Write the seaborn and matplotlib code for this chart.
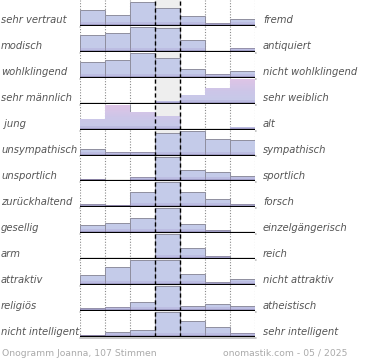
import numpy as np
import matplotlib
matplotlib.use("Agg")
import matplotlib.pyplot as plt
import matplotlib.transforms as mtransforms
from matplotlib.colors import LinearSegmentedColormap
import seaborn as sns

left_labels = ["sehr vertraut", "modisch", "wohlklingend", "sehr männlich", " jung",
               "unsympathisch", "unsportlich", "zurückhaltend", "gesellig", "arm",
               "attraktiv", "religiös", "nicht intelligent"]
right_labels = ["fremd", "antiquiert", "nicht wohlklingend", "sehr weiblich", "alt",
                "sympathisch", "sportlich", "forsch", "einzelgängerisch", "reich",
                "nicht attraktiv", "atheistisch", "sehr intelligent"]
scale_steps = ["1", "2", "3", "4", "5", "6", "7"]

v_vertraut = [16, 11, 24, 17.5, 9.5, 2.5, 6.5]
v_modisch = [17, 19, 25, 24, 12, 0, 4]
v_wohlklingend = [15.7, 17.7, 25, 20.3, 8.7, 3.3, 6.3]
v_maennlich = [0, 0, 0, 2.7, 8.7, 16, 25]
v_jung = [10.7, 25, 17.7, 14, 1, 0, 2.3]
v_unsympathisch = [6.7, 4, 4, 23, 25, 16.5, 15.5]
v_unsportlich = [2.3, 0, 4, 25, 11, 9, 5]
v_zurueckhaltend = [3.3, 2, 15.3, 25, 15.3, 8.3, 3.3]
v_gesellig = [8.3, 10, 15.7, 25, 9, 3, 1.7]
v_arm = [0.4, 0.4, 0.4, 25, 11.7, 3.7, 1.7]
v_attraktiv = [10, 18.7, 25, 25, 10.7, 3.3, 5.7]
v_religioes = [2.7, 4.3, 9.3, 25, 5, 6.7, 5.3]
v_intelligent = [2, 5, 7.3, 25, 16, 10, 4]

rows = [v_vertraut, v_modisch, v_wohlklingend, v_maennlich, v_jung, v_unsympathisch,
        v_unsportlich, v_zurueckhaltend, v_gesellig, v_arm, v_attraktiv, v_religioes,
        v_intelligent]
gradient_rows = [3, 4]

sns.set_style("white")
plt.rcParams['font.family'] = ['DejaVu Sans']

W, H = 370, 360
fig, axes = plt.subplots(len(rows), 1, figsize=(W / 100, H / 100), dpi=100)
fig.subplots_adjust(left=80 / W, right=255 / W, top=1.0, bottom=1 - 337 / H, hspace=0)

bar_color = "#c4cbe9"
label_color = "#555555"
pink_cmap = LinearSegmentedColormap.from_list("pk", ["#c4cbe9", "#cdc6e8", "#e0c4e6"])

for i, (ax, vals) in enumerate(zip(axes, rows)):
    vals = np.array(vals, dtype=float)
    ax.axvspan(2.5, 3.5, color="#eeeeee", zorder=0)
    n_before = len(ax.patches)
    sns.barplot(x=scale_steps, y=vals, order=scale_steps, color=bar_color, width=1,
                saturation=1, edgecolor="#8f8f9f", linewidth=0.7, ax=ax, zorder=2)
    bar_patches = list(ax.patches)[n_before:]
    if i in gradient_rows:
        grad = np.linspace(0, 1, 256).reshape(-1, 1)
        for p in bar_patches:
            if p.get_height() <= 0:
                continue
            im = ax.imshow(grad, cmap=pink_cmap, aspect="auto", origin="lower",
                           extent=(-0.5, 6.5, 0, 26), zorder=2.1)
            im.set_clip_path(p)
    sns.barplot(x=scale_steps, y=np.minimum(vals, 4), order=scale_steps, color="#a596cf",
                width=1, saturation=1, alpha=0.25, linewidth=0, ax=ax, zorder=2.2)
    sns.barplot(x=scale_steps, y=np.minimum(vals, 2), order=scale_steps, color="#9a88c8",
                width=1, saturation=1, alpha=0.3, linewidth=0, ax=ax, zorder=2.3)
    for x in [-0.5, 0.5, 1.5, 4.5, 5.5, 6.5]:
        ax.axvline(x, color="#8a8a8a", ls=(0, (1, 1.5)), lw=0.8, zorder=1)
    for x in [2.5, 3.5]:
        ax.axvline(x, color="black", ls=(0, (3, 2)), lw=1.0, zorder=4)
    ax.plot([-0.5, 6.55], [-0.9, -0.9], color="#bbbbbb", lw=1.2, zorder=4.5, clip_on=False)
    ax.axhline(0, color="black", lw=1.6, zorder=5)
    ax.set_xlim(-0.5, 6.5)
    ax.set_ylim(0, 26)
    ax.set_xticks([])
    ax.set_yticks([])
    ax.set_xlabel("")
    ax.set_ylabel("")
    for s in ax.spines.values():
        s.set_visible(False)
    tr = mtransforms.blended_transform_factory(fig.transFigure, ax.transAxes)
    ax.text(1 / W, 5.5 / 26, left_labels[i], transform=tr, ha="left", va="center",
            fontsize=7.2, style="italic", color=label_color)
    ax.text(263 / W, 5.5 / 26, right_labels[i], transform=tr, ha="left", va="center",
            fontsize=7.2, style="italic", color=label_color)

fig.text(1.5 / W, 1 - 353 / H, "Onogramm Joanna, 107 Stimmen", ha="left", va="center",
         fontsize=6.7, color="#aaaaaa")
fig.text(347 / W, 1 - 353 / H, "onomastik.com - 05 / 2025", ha="right", va="center",
         fontsize=6.7, color="#aaaaaa")

fig.savefig("out.png", dpi=100)
